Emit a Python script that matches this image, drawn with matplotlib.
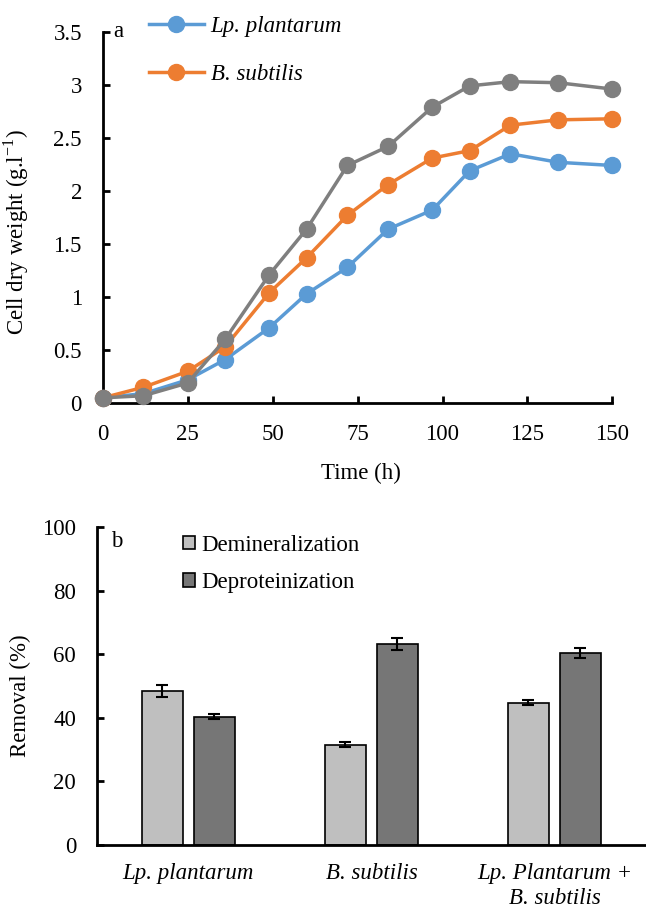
import matplotlib.pyplot as plt
import numpy as np
from matplotlib.lines import Line2D

plt.rcParams['font.family'] = ['Liberation Serif', 'DejaVu Serif']
plt.rcParams['mathtext.fontset'] = 'custom'
plt.rcParams['mathtext.rm'] = 'Liberation Serif'

# --- dados painel a ---
tempo = [0, 12, 25, 36, 49, 60, 72, 84, 97, 108, 120, 134, 150]
lp_plantarum = [0.05, 0.09, 0.22, 0.41, 0.71, 1.03, 1.28, 1.64, 1.82, 2.19, 2.35, 2.27, 2.24]
b_subtilis = [0.05, 0.15, 0.30, 0.53, 1.04, 1.37, 1.77, 2.06, 2.31, 2.38, 2.62, 2.67, 2.68]
co_cultura = [0.05, 0.07, 0.19, 0.60, 1.21, 1.64, 2.24, 2.42, 2.79, 2.99, 3.03, 3.02, 2.96]

# --- dados painel b ---
categorias = ['Lp. plantarum', 'B. subtilis', 'Lp. Plantarum +\nB. subtilis']
desmineralizacao = [48.5, 31.6, 44.8]
desmineralizacao_err = [1.8, 0.8, 0.9]
desproteinizacao = [40.3, 63.2, 60.4]
desproteinizacao_err = [0.8, 1.8, 1.7]

fs = 16.5
ms = 11.5
fig = plt.figure(figsize=(6.46, 9.08), dpi=100)

# --- painel a ---
ax1 = fig.add_axes([0.159, 0.556, 0.789, 0.409])
cores = {'lp': '#5B9BD5', 'bs': '#ED7D31', 'co': '#7F7F7F'}
ax1.plot(tempo, lp_plantarum, '-o', color=cores['lp'], lw=2.5, ms=ms, zorder=3, clip_on=False)
ax1.plot(tempo, b_subtilis, '-o', color=cores['bs'], lw=2.5, ms=ms, zorder=3, clip_on=False)
ax1.plot(tempo, co_cultura, '-o', color=cores['co'], lw=2.5, ms=ms, zorder=4, clip_on=False)
ax1.set_xlim(0, 150)
ax1.set_ylim(0, 3.5)
ax1.set_xticks(np.arange(0, 151, 25))
ax1.set_yticks([0, 0.5, 1, 1.5, 2, 2.5, 3, 3.5])
ax1.set_yticklabels(['0', '0.5', '1', '1.5', '2', '2.5', '3', '3.5'])
ax1.spines['top'].set_visible(False)
ax1.spines['right'].set_visible(False)
for s in ['left', 'bottom']:
    ax1.spines[s].set_linewidth(2)
ax1.tick_params(direction='in', width=2, length=5, labelsize=fs, pad=15)
ax1.set_xlabel('Time (h)', fontsize=fs)
ax1.xaxis.set_label_coords(0.507, -0.162)
ax1.set_ylabel('Cell dry weight (g.l$^{-1}$)', fontsize=fs)
ax1.yaxis.set_label_coords(-0.14, 0.46)
ax1.text(0.02, 1.0, 'a', transform=ax1.transAxes, fontsize=fs, va='center')

handles = [Line2D([], [], color=cores['lp'], marker='o', lw=2.5, ms=ms),
           Line2D([], [], color=cores['bs'], marker='o', lw=2.5, ms=ms)]
ax1.legend(handles, ['Lp. plantarum', 'B. subtilis'], loc='upper left',
           bbox_to_anchor=(0.05, 1.097), frameon=False, handlelength=2.4,
           handletextpad=0.3, labelspacing=1.15,
           prop={'family': 'Liberation Serif', 'style': 'italic', 'size': fs})

# --- painel b ---
ax2 = fig.add_axes([0.150, 0.0694, 0.850, 0.350])
x = np.arange(len(categorias))
largura = 0.224
desloc = 0.142
ax2.bar(x - desloc, desmineralizacao, largura, yerr=desmineralizacao_err,
        color='#BFBFBF', edgecolor='black', linewidth=1.2, capsize=4,
        error_kw={'elinewidth': 1.5, 'capthick': 1.5}, label='Demineralization')
ax2.bar(x + desloc, desproteinizacao, largura, yerr=desproteinizacao_err,
        color='#767676', edgecolor='black', linewidth=1.2, capsize=4,
        error_kw={'elinewidth': 1.5, 'capthick': 1.5}, label='Deproteinization')
ax2.set_xlim(-0.5, 2.5)
ax2.set_ylim(0, 100)
ax2.set_yticks(np.arange(0, 101, 20))
ax2.set_xticks(x)
ax2.set_xticklabels(categorias, fontsize=fs, fontstyle='italic', linespacing=1.25)
ax2.spines['top'].set_visible(False)
ax2.spines['right'].set_visible(False)
for s in ['left', 'bottom']:
    ax2.spines[s].set_linewidth(2)
ax2.tick_params(axis='y', direction='in', width=2, length=5, labelsize=fs, pad=15)
ax2.tick_params(axis='x', length=0, pad=13)
ax2.set_ylabel('Removal (%)', fontsize=fs)
ax2.yaxis.set_label_coords(-0.12, 0.47)
ax2.text(0.025, 0.955, 'b', transform=ax2.transAxes, fontsize=fs, va='center')
ax2.legend(loc='upper left', bbox_to_anchor=(0.12, 1.04), frameon=False,
           handlelength=0.5, handleheight=0.5, handletextpad=0.3,
           labelspacing=0.7, fontsize=fs)

fig.savefig('out.png', dpi=100)
